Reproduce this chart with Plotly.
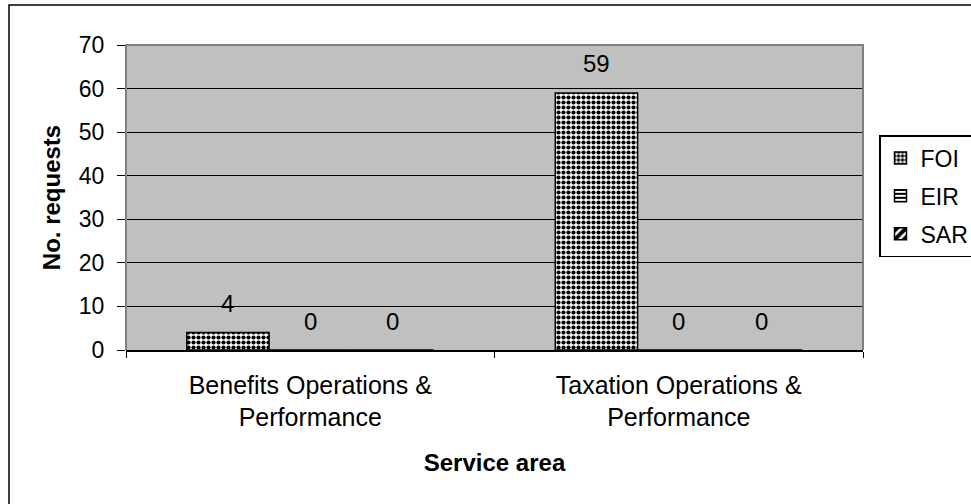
import plotly.graph_objects as go

categories = ["Benefits Operations &<br>Performance", "Taxation Operations &<br>Performance"]
series_names = ["FOI", "EIR", "SAR"]
foi = [4, 59]
eir = [0, 0]
sar = [0, 0]
y_ticks = [0, 10, 20, 30, 40, 50, 60, 70]

FONT = "Liberation Sans, Arial, sans-serif"
W, H = 971, 504
ML, MR, MT, MB = 126, 108, 45, 154
pw, ph = W - ML - MR, H - MT - MB

patterns = [
    dict(shape=".", size=5, solidity=0.55, fgcolor="black", bgcolor="white", fgopacity=1),
    dict(shape="-", size=5, solidity=0.5, fgcolor="black", bgcolor="white", fgopacity=1),
    dict(shape="/", size=8, solidity=0.6, fgcolor="black", bgcolor="white", fgopacity=1),
]

fig = go.Figure()
all_vals = [foi, eir, sar]
for k, (name, vals) in enumerate(zip(series_names, all_vals)):
    fig.add_trace(go.Bar(
        x=categories, y=vals, name=name, legendgroup=name,
        marker=dict(color="white", line=dict(color="black", width=1.5), pattern=patterns[k]),
        hoverinfo="skip",
    ))

bargap = 0.33
bw = (1 - bargap) / len(series_names)
annotations = []
for k, vals in enumerate(all_vals):
    for i, v in enumerate(vals):
        annotations.append(dict(
            x=i + (k - 1) * bw, y=v, xref="x", yref="y", text=str(v),
            showarrow=False, yanchor="middle", yshift=29,
            font=dict(family=FONT, size=24, color="black"),
        ))

# outer chart border (extends past the image on right/bottom)
x0 = (9 - ML) / pw
x1 = (W + 10 - ML) / pw
ytop = 1 + (MT - 5) / ph
ybot = -(MB + 10) / ph
shapes = [
    dict(type="rect", xref="paper", yref="paper", x0=x0, x1=x1, y0=ybot, y1=ytop,
         line=dict(color="black", width=1.5), fillcolor="rgba(0,0,0,0)", layer="below"),
    dict(type="path", xref="paper", yref="paper", path="M0,0 L0,1 L1,1 L1,0",
         line=dict(color="#808080", width=2), layer="above"),
]

fig.update_layout(
    width=W, height=H,
    margin=dict(l=ML, r=MR, t=MT, b=MB, pad=0, autoexpand=False),
    paper_bgcolor="white", plot_bgcolor="#C0C0C0",
    barmode="group", bargap=bargap, bargroupgap=0,
    font=dict(family=FONT, size=23, color="black"),
    showlegend=True,
    legend=dict(
        x=(879 - ML) / pw, xanchor="left", y=(MT + ph - 135) / ph, yanchor="top",
        bordercolor="black", borderwidth=1.5, bgcolor="white",
        font=dict(family=FONT, size=23, color="black"),
        tracegroupgap=5, itemwidth=30,
    ),
    annotations=annotations,
    shapes=shapes,
)

fig.update_xaxes(
    type="category", tickson="boundaries", ticks="outside", ticklen=6, tickcolor="black",
    showline=True, linecolor="black", linewidth=1.5, showgrid=False, zeroline=False,
    tickfont=dict(family=FONT, size=25), ticklabelstandoff=12,
    title=dict(text="<b>Service area</b>", font=dict(family=FONT, size=24), standoff=24),
)
fig.update_yaxes(
    range=[0, 70], tickvals=y_ticks, ticks="outside", ticklen=8, tickcolor="black",
    showline=False, showgrid=True, gridcolor="black", gridwidth=1, zeroline=False,
    tickfont=dict(family=FONT, size=23), ticklabelstandoff=8,
    title=dict(text="<b>No. requests</b>", font=dict(family=FONT, size=24), standoff=11),
)

fig.write_html("out.html")
